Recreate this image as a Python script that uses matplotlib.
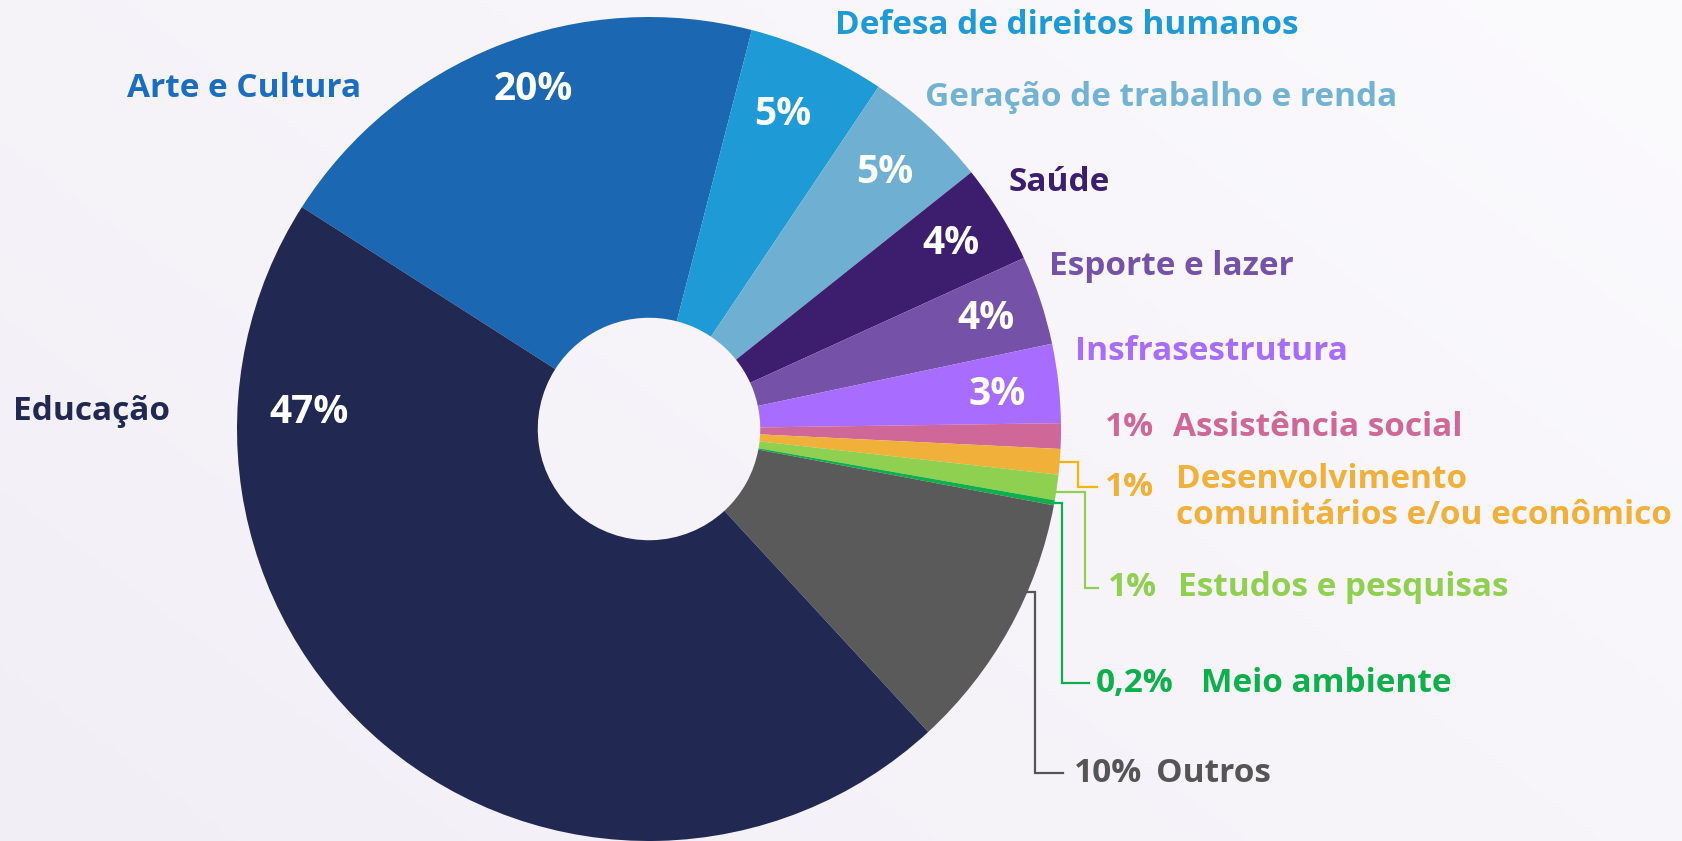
import numpy as np
import matplotlib.pyplot as plt
from matplotlib.colors import to_rgb

W, H = 1683, 841

# slices, clockwise starting at Arte e Cultura
categories = ['Arte e Cultura', 'Defesa de direitos humanos', 'Geração de trabalho e renda',
              'Saúde', 'Esporte e lazer', 'Insfrasestrutura', 'Assistência social',
              'Desenvolvimento\ncomunitários e/ou econômico', 'Estudos e pesquisas',
              'Meio ambiente', 'Outros', 'Educação']
shares = [20, 5.4, 4.9, 3.9, 3.5, 3.1, 1.0, 1.0, 1.0, 0.2, 10.2, 46]
pct_labels = ['20%', '5%', '5%', '4%', '4%', '3%', '1%', '1%', '1%', '0,2%', '10%', '47%']

slice_colors = ['#1c67b1', '#1e9ad6', '#6fb0d2', '#3d1e6e', '#7552a8', '#a86cff',
                '#cf6898', '#f0b03a', '#90d050', '#0db04b', '#5a5a5a', '#212952']
text_colors = ['#1b6dbf', '#1e9ad6', '#72b3d3', '#3d1e6e', '#7552a8', '#a86cff',
               '#cf6898', '#f0b03a', '#90d050', '#0db04b', '#555555', '#212952']
line_colors = {7: '#f7b500', 8: '#90d050', 9: '#0db04b', 10: '#555555'}

FONT = 'Open Sans'
LBL = 24     # label font size
PCT = 28     # in-slice percentage font size
CX, CY, R = 649, 429, 412   # pie centre / radius in pixels


def fy(y):
    # pixel row -> data y
    return H - y


fig = plt.figure(figsize=(W / 100, H / 100), dpi=100)
ax = fig.add_axes([0, 0, 1, 1])

# soft background gradient
xx, yy = np.meshgrid(np.linspace(0, 1, 400), np.linspace(0, 1, 200))
t = (xx * 0.6 + yy * 0.4)
c0 = np.array(to_rgb('#f2eef6'))
c1 = np.array(to_rgb('#fbfafd'))
img = c0[None, None, :] * (1 - t[..., None]) + c1[None, None, :] * t[..., None]
ax.imshow(img, extent=[0, W, H, 0], origin='upper', zorder=0, aspect='auto')

wedges, _ = ax.pie(shares, colors=slice_colors, startangle=147.4, counterclock=False,
                   center=(CX, fy(CY)), radius=R, frame=True,
                   wedgeprops=dict(width=R * 0.73, linewidth=0))
for w in wedges:
    w.set_zorder(2)

ax.set_xlim(0, W)
ax.set_ylim(0, H)
ax.set_aspect('equal')
ax.axis('off')


def point(ang, r):
    a = np.deg2rad(ang)
    return CX + r * np.cos(a), fy(CY) + r * np.sin(a)


# white percentages inside the bigger slices (radius fraction, angle nudge)
pct_r = [0.87, 0.83, 0.845, 0.86, 0.86, 0.85]
pct_da = [-2.7, 1.2, 0, 0, 0, -0.8]
for i in range(6):
    w = wedges[i]
    mid = (w.theta1 + w.theta2) / 2 + pct_da[i]
    x, y = point(mid, R * pct_r[i])
    ax.text(x, y, pct_labels[i], color='white', fontsize=PCT, fontweight='bold',
            family=FONT, ha='center', va='center', zorder=3)
x, y = point(177.3, R * 0.825)
ax.text(x, y, pct_labels[11], color='white', fontsize=PCT, fontweight='bold',
        family=FONT, ha='center', va='center', zorder=3)

# plain labels
plain = {0: (127, 88), 1: (835, 25), 2: (925, 97), 3: (1009, 182),
         4: (1049, 266), 5: (1075, 352), 11: (13, 411)}
for i, (x, y) in plain.items():
    ax.text(x, fy(y), categories[i], color=text_colors[i], fontsize=LBL,
            fontweight='bold', family=FONT, ha='left', va='center', zorder=3)

# right-side labels: percentage + name
right = {6: (1105, 1173, 428), 7: (1105, 1176, 487), 8: (1108, 1178, 588),
         9: (1096, 1201, 683), 10: (1074, 1156, 773)}
for i, (xp, xn, y) in right.items():
    ax.text(xp, fy(y), pct_labels[i], color=text_colors[i], fontsize=LBL,
            fontweight='bold', family=FONT, ha='left', va='center', zorder=3)
    if i == 7:
        ax.text(xn, fy(y) + 24, categories[i], color=text_colors[i], fontsize=LBL,
                fontweight='bold', family=FONT, ha='left', va='top', zorder=3,
                linespacing=1.1)
    else:
        ax.text(xn, fy(y), categories[i], color=text_colors[i], fontsize=LBL,
                fontweight='bold', family=FONT, ha='left', va='center', zorder=3)

# leader lines: anchor angle on rim, elbow x, end x
leaders = {7: (None, 1078, 1097), 8: (-8.8, 1085, 1098),
           9: (None, 1062, 1089), 10: (-23.3, 1035, 1063)}
for i, (ang, xe, xend) in leaders.items():
    w = wedges[i]
    if ang is None:
        ang = (w.theta1 + w.theta2) / 2
    x0, y0 = point(ang, R)
    y1 = fy(right[i][2])
    ax.plot([x0, xe, xe, xend], [y0, y0, y1, y1], color=line_colors[i],
            lw=1.6, solid_joinstyle='miter', zorder=1)

fig.savefig('out.png', dpi=100)
